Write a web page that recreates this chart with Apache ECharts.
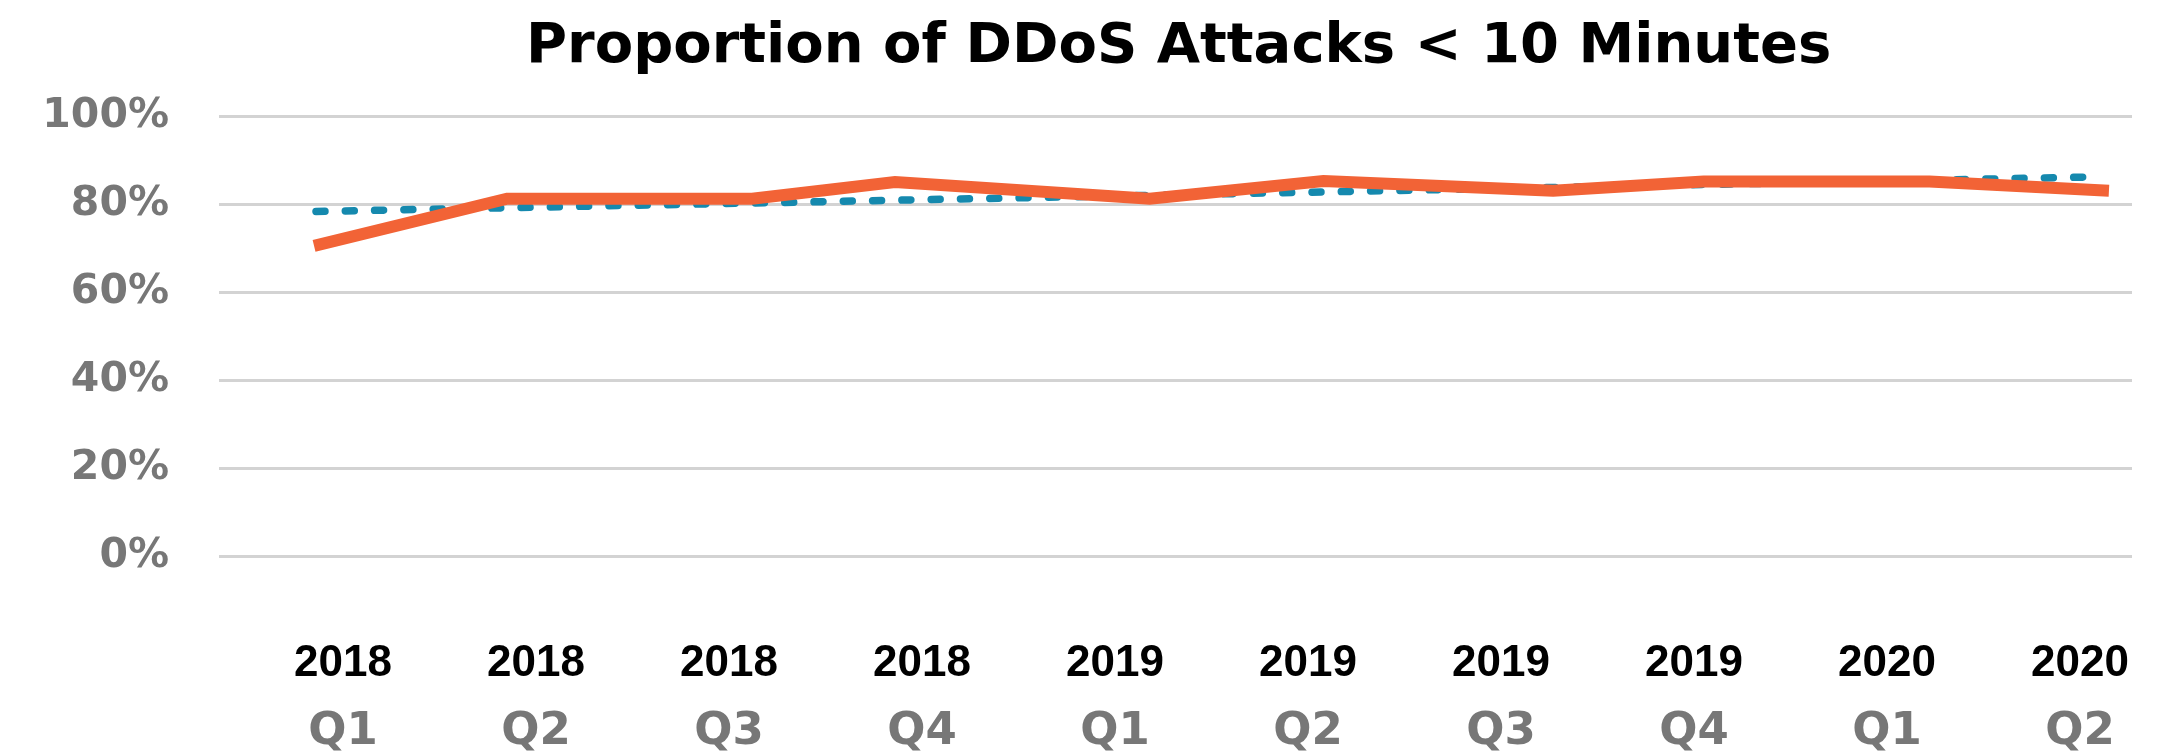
<!DOCTYPE html>
<html>
<head>
<meta charset="utf-8">
<title>Proportion of DDoS Attacks &lt; 10 Minutes</title>
<script src="https://cdn.jsdelivr.net/npm/echarts@6/dist/echarts.min.js"></script>
<style>
  html, body { margin: 0; padding: 0; background: #fff; }
  #chart { width: 2178px; height: 755px; }
</style>
</head>
<body>
<div id="chart"></div>
<script>
  // tick labels (two lines per quarter)
  const years = ['2018', '2018', '2018', '2018', '2019', '2019', '2019', '2019', '2020', '2020']
  const quarters = ['Q1', 'Q2', 'Q3', 'Q4', 'Q1', 'Q2', 'Q3', 'Q4', 'Q1', 'Q2']
  const labelPos = [0, 1, 2, 3, 4, 5, 6, 7, 8, 9]

  // share of attacks shorter than 10 minutes (%), x read in quarter units
  const shortX = [-0.15, 0.85, 2.12, 2.86, 4.18, 5.08, 6.27, 7.05, 8.22, 9.15]
  const shortY = [70.5, 81.2, 81.2, 85.0, 81.2, 85.2, 83.0, 85.1, 85.1, 83.0]

  // dotted trend line end points
  const trendX = [-0.14, 9.02]
  const trendY = [78.3, 86.1]

  const chart = echarts.init(document.getElementById('chart'))

  const zip = (xs, ys) => xs.map((x, i) => [x, ys[i]])

  chart.setOption({
    animation: false,
    backgroundColor: '#fff',
    title: {
      text: 'Proportion of DDoS Attacks < 10 Minutes',
      left: 521,
      top: 14,
      textStyle: {
        fontFamily: 'DejaVu Sans',
        fontWeight: 'bold',
        fontSize: 56,
        color: '#000'
      }
    },
    grid: {
      left: 219,
      right: 46,
      top: 116,
      bottom: 199
    },
    xAxis: {
      type: 'value',
      min: -0.6425,
      max: 9.2694,
      axisLine: { show: false },
      axisTick: { show: false },
      splitLine: { show: false },
      axisLabel: {
        customValues: labelPos,
        margin: 73,
        formatter: function(value) {
          let i = Math.round(value)
          return '{a|' + years[i] + '}\n{b|' + quarters[i] + '}'
        },
        rich: {
          a: {
            fontFamily: 'Liberation Sans',
            fontWeight: 'bold',
            fontSize: 44,
            color: '#000',
            lineHeight: 69
          },
          b: {
            fontFamily: 'DejaVu Sans',
            fontWeight: 'bold',
            fontSize: 45,
            color: '#777',
            lineHeight: 69
          }
        }
      }
    },
    yAxis: {
      type: 'value',
      min: 0,
      max: 100,
      interval: 20,
      axisLine: { show: false },
      axisTick: { show: false },
      axisLabel: {
        margin: 50,
        formatter: '{value}%',
        fontFamily: 'DejaVu Sans',
        fontWeight: 'bold',
        fontSize: 41,
        color: '#777'
      },
      splitLine: {
        lineStyle: { color: '#d3d3d3', width: 3 }
      }
    },
    series: [
      {
        name: 'Trend',
        type: 'line',
        data: zip(trendX, trendY),
        symbol: 'none',
        lineStyle: {
          color: '#1589ae',
          width: 7.5,
          type: [9, 20.3],
          cap: 'round'
        },
        z: 2
      },
      {
        name: '< 10 minutes',
        type: 'line',
        data: zip(shortX, shortY),
        symbol: 'none',
        lineStyle: {
          color: '#f26336',
          width: 12,
          join: 'miter'
        },
        z: 3
      }
    ]
  })
</script>
</body>
</html>
